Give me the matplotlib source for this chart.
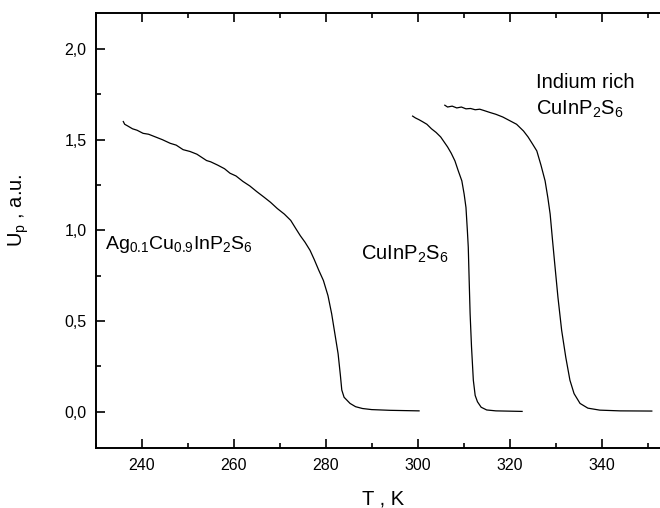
import matplotlib
matplotlib.use('Agg')
import matplotlib.pyplot as plt
from matplotlib.ticker import MultipleLocator, FixedLocator, FuncFormatter

plt.rcParams['font.family'] = ['Liberation Sans', 'DejaVu Sans']
plt.rcParams['mathtext.fontset'] = 'custom'
plt.rcParams['mathtext.rm'] = 'Liberation Sans'

# --- data ---
t_agcu = [236.0, 236.3, 237.0, 238.0, 239.0, 240.3, 241.5, 243.0, 244.5, 246.2,
          247.5, 249.0, 250.5, 252.0, 254.1, 255.0, 256.5, 258.0, 259.2, 260.5,
          262.0, 263.5, 265.0, 266.5, 268.0, 269.5, 271.0, 272.4, 273.5, 274.5,
          275.5, 276.6, 277.5, 278.5, 279.5, 280.5, 281.3, 282.0, 282.7, 283.2,
          283.5, 284.0, 285.3, 286.5, 288.0, 290.0, 294.0, 300.3]
u_agcu = [1.600, 1.585, 1.575, 1.560, 1.552, 1.535, 1.530, 1.515, 1.500, 1.480,
          1.470, 1.445, 1.435, 1.420, 1.385, 1.378, 1.360, 1.340, 1.315, 1.300,
          1.270, 1.245, 1.214, 1.185, 1.155, 1.120, 1.090, 1.055, 1.010, 0.970,
          0.935, 0.890, 0.840, 0.780, 0.724, 0.640, 0.540, 0.430, 0.320, 0.200,
          0.120, 0.080, 0.046, 0.028, 0.018, 0.012, 0.008, 0.005]

t_cu = [298.9, 299.5, 300.3, 301.0, 302.0, 303.0, 304.0, 305.0, 305.6, 306.5,
        307.3, 308.1, 308.8, 309.6, 310.1, 310.5, 310.8, 311.0, 311.2, 311.4,
        311.7, 312.1, 312.5, 313.0, 313.8, 315.0, 317.0, 322.7]
u_cu = [1.630, 1.620, 1.610, 1.600, 1.585, 1.560, 1.540, 1.515, 1.493, 1.460,
        1.425, 1.383, 1.330, 1.273, 1.200, 1.126, 1.000, 0.907, 0.720, 0.540,
        0.360, 0.174, 0.090, 0.055, 0.025, 0.010, 0.005, 0.002]

t_inrich = [305.9, 306.5, 307.5, 308.5, 309.5, 310.5, 311.5, 312.5, 313.5, 314.5,
            315.7, 317.0, 318.5, 320.0, 321.5, 323.0, 324.0, 325.0, 325.9, 326.8,
            327.7, 328.3, 328.8, 329.3, 329.8, 330.5, 331.3, 332.2, 333.1, 334.0,
            335.3, 337.0, 339.6, 344.0, 350.9]
u_inrich = [1.690, 1.680, 1.685, 1.675, 1.680, 1.670, 1.672, 1.665, 1.668, 1.660,
            1.650, 1.640, 1.625, 1.605, 1.585, 1.548, 1.515, 1.475, 1.438, 1.360,
            1.273, 1.180, 1.090, 0.950, 0.815, 0.630, 0.449, 0.300, 0.174, 0.100,
            0.046, 0.020, 0.009, 0.005, 0.004]

x_major = [240, 260, 280, 300, 320, 340]

fig = plt.figure(figsize=(6.6, 5.08), dpi=100)
# axes run past the right edge of the picture, as in the reference crop
ax = fig.add_axes([0.145, 0.118, 0.906, 0.857])

for t, u in [(t_agcu, u_agcu), (t_cu, u_cu), (t_inrich, u_inrich)]:
    ax.plot(t, u, color='black', lw=0.9)

ax.set_xlim(230, 360)
ax.set_ylim(-0.2, 2.2)
ax.xaxis.set_major_locator(FixedLocator(x_major))
ax.xaxis.set_minor_locator(MultipleLocator(10))
ax.yaxis.set_major_locator(MultipleLocator(0.5))
ax.yaxis.set_minor_locator(MultipleLocator(0.25))
ax.yaxis.set_major_formatter(FuncFormatter(lambda v, p: f"{v:.1f}".replace('.', ',')))

ax.tick_params(which='both', direction='in', top=True, right=True, width=1.2, labelsize=11.5)
ax.tick_params(which='major', length=6.2)
ax.tick_params(which='minor', length=3.3)
ax.tick_params(axis='x', pad=7.5)
ax.tick_params(axis='y', pad=6.5)
for s in ax.spines.values():
    s.set_linewidth(1.4)

ax.set_xlabel('T , K', fontsize=14.5)
ax.xaxis.set_label_coords(0.48, -0.096)
ax.set_ylabel(r'$\mathregular{U_p}$ , a.u.', fontsize=14.5)
ax.yaxis.set_label_coords(-0.108, 0.547)

ax.text(232.0, 0.90, r'$\mathregular{Ag_{0.1}Cu_{0.9}InP_2S_6}$', fontsize=14,
        ha='left', va='baseline')
ax.text(287.7, 0.84, r'$\mathregular{CuInP_2S_6}$', fontsize=14.5,
        ha='left', va='baseline')
ax.text(325.7, 1.786, 'Indium rich', fontsize=14.5, ha='left', va='baseline')
ax.text(325.7, 1.640, r'$\mathregular{CuInP_2S_6}$', fontsize=14.5,
        ha='left', va='baseline')

fig.savefig('out.png', dpi=100)
